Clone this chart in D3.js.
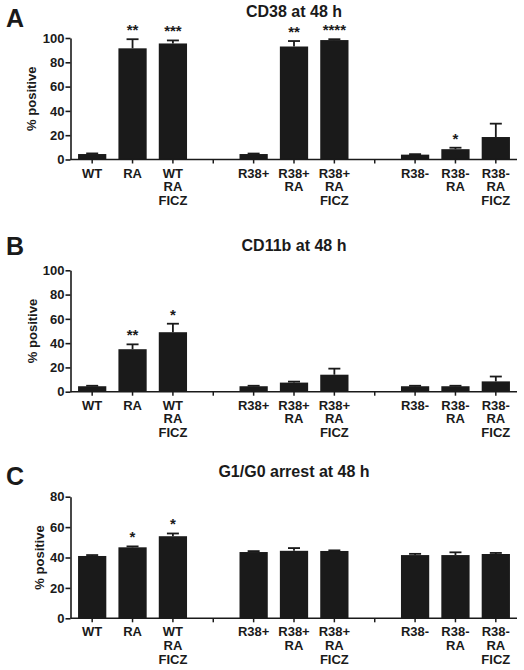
<!DOCTYPE html>
<html><head><meta charset="utf-8">
<script src="https://cdn.jsdelivr.net/npm/d3@7"></script>
<style>
body{margin:0;background:#fff;}
text{font-family:"Liberation Sans",Arial,Helvetica,sans-serif;font-weight:bold;fill:#1a1a1a;}
</style></head>
<body><svg id="chart" width="524" height="670"></svg>
<script>
// ---- data ----
const categories = ["WT","RA","WT\nRA\nFICZ","gap1","R38+","R38+\nRA","R38+\nRA\nFICZ","gap2","R38-","R38-\nRA","R38-\nRA\nFICZ"];
const barCategories = ["WT","RA","WT\nRA\nFICZ","R38+","R38+\nRA","R38+\nRA\nFICZ","R38-","R38-\nRA","R38-\nRA\nFICZ"];

const cd38Mean = [4.5, 91.5, 95.5, 4.5, 93, 98.3, 4, 8.5, 18.5];
const cd38Err  = [0.5, 7.5, 2.5, 0.4, 4.5, 0.7, 0.4, 1.2, 11];
const cd38Sig  = ["", "**", "***", "", "**", "****", "", "*", ""];

const cd11bMean = [4.5, 35, 49, 4.5, 7.5, 14, 4.5, 4.5, 8.5];
const cd11bErr  = [0.4, 4, 7, 0.4, 0.8, 5, 0.4, 0.4, 4];
const cd11bSig  = ["", "**", "*", "", "", "", "", "", ""];

const g1Mean = [41, 46.7, 54, 43.6, 44.4, 44.3, 41.6, 41.6, 42.3];
const g1Err  = [0.6, 0.6, 1.8, 0.6, 1.8, 0.4, 0.8, 1.8, 0.7];
const g1Sig  = ["", "*", "*", "", "", "", "", "", ""];

const yTicksAB = [0,20,40,60,80,100];
const yTicksC  = [0,20,40,60,80];

const panels = [
  {letter:"A", title:"CD38 at 48 h", mean:cd38Mean, err:cd38Err, sig:cd38Sig, max:100, ticks:yTicksAB,
   top:38, bottom:159.5, titleY:17, letterY:27, ylabX:36},
  {letter:"B", title:"CD11b at 48 h", mean:cd11bMean, err:cd11bErr, sig:cd11bSig, max:100, ticks:yTicksAB,
   top:270.3, bottom:391.7, titleY:250.5, letterY:255, ylabX:37},
  {letter:"C", title:"G1/G0 arrest at 48 h", mean:g1Mean, err:g1Err, sig:g1Sig, max:80, ticks:yTicksC,
   top:496.7, bottom:618.3, titleY:476.5, letterY:485, ylabX:44}
];

const svg = d3.select("#chart");
const ink = "#1a1a1a";
const x = d3.scaleBand().domain(categories).range([72,516]).paddingInner(0.3).paddingOuter(0.15);
const axisX0 = 70.5, axisX1 = 517;

panels.forEach(p => {
  const g = svg.append("g");
  const y = d3.scaleLinear().domain([0,p.max]).range([p.bottom,p.top]);

  g.append("text").attr("x",6).attr("y",p.letterY).attr("font-size",25).text(p.letter);
  g.append("text").attr("x",294).attr("y",p.titleY).attr("text-anchor","middle").attr("font-size",16).text(p.title);

  // y axis
  const ya = g.append("g").attr("transform",`translate(${axisX0},0)`)
    .call(d3.axisLeft(y).tickValues(p.ticks).tickSize(5).tickPadding(1).tickSizeOuter(0));
  ya.select(".domain").attr("stroke",ink).attr("stroke-width",1.6);
  ya.selectAll(".tick line").attr("stroke",ink).attr("stroke-width",1.6);
  ya.selectAll(".tick text").attr("font-size",13).attr("font-family","Liberation Sans, Arial, sans-serif").attr("font-weight","bold").attr("fill",ink);

  g.append("text").attr("transform",`translate(${p.ylabX},${(p.top+p.bottom)/2}) rotate(-90)`)
    .attr("text-anchor","middle").attr("font-size",13).text("% positive");

  // bars
  const data = barCategories.map((c,i)=>({c, m:p.mean[i], e:p.err[i], s:p.sig[i]}));
  g.selectAll("rect.bar").data(data).join("rect").attr("class","bar")
    .attr("x",d=>x(d.c)).attr("width",x.bandwidth())
    .attr("y",d=>y(d.m)).attr("height",d=>y(0)-y(d.m)).attr("fill",ink);

  // error bars (upper)
  const cw = 6;
  data.forEach(d=>{
    const cx = x(d.c)+x.bandwidth()/2;
    g.append("line").attr("x1",cx).attr("x2",cx).attr("y1",y(d.m)).attr("y2",y(d.m+d.e)).attr("stroke",ink).attr("stroke-width",1.8);
    g.append("line").attr("x1",cx-cw).attr("x2",cx+cw).attr("y1",y(d.m+d.e)).attr("y2",y(d.m+d.e)).attr("stroke",ink).attr("stroke-width",1.8);
    if(d.s) g.append("text").attr("x",cx).attr("y",y(d.m+d.e)-4).attr("text-anchor","middle").attr("font-size",15).text(d.s);
  });

  // x axis
  g.append("line").attr("x1",axisX0).attr("x2",axisX1).attr("y1",y(0)).attr("y2",y(0)).attr("stroke",ink).attr("stroke-width",1.6);
  categories.forEach(c=>{
    const cx = x(c)+x.bandwidth()/2;
    g.append("line").attr("x1",cx).attr("x2",cx).attr("y1",y(0)).attr("y2",y(0)+4).attr("stroke",ink).attr("stroke-width",1.5);
    if(c.startsWith("gap")) return;
    const t = g.append("text").attr("text-anchor","middle").attr("font-size",13);
    c.split("\n").forEach((line,i)=>{
      t.append("tspan").attr("x",cx).attr("y",y(0)+18+i*13.7).text(line);
    });
  });
});
</script></body></html>
